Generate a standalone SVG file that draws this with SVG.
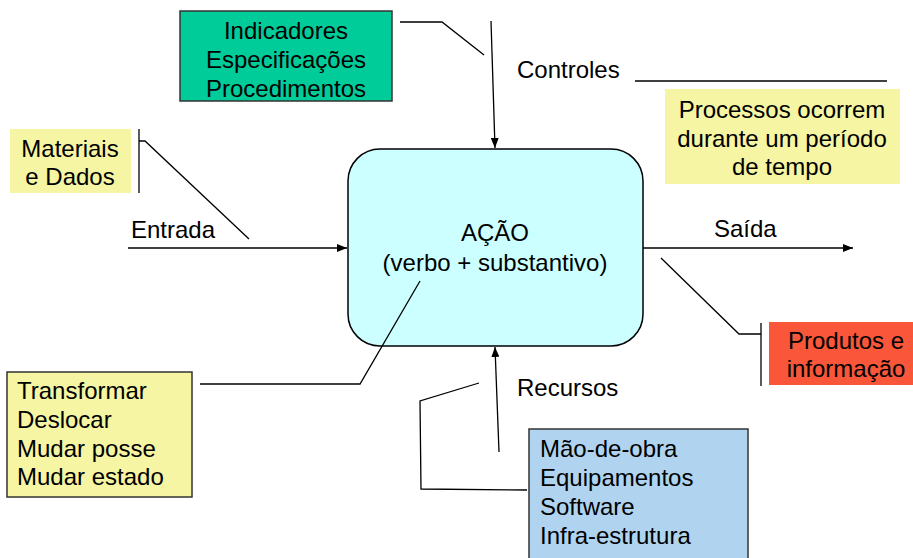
<svg xmlns="http://www.w3.org/2000/svg" width="913" height="558" viewBox="0 0 913 558">
<defs>
<marker id="arr" markerWidth="10" markerHeight="8" refX="10" refY="4" orient="auto" markerUnits="userSpaceOnUse">
<path d="M0,0 L10,4 L0,8 Z" fill="#000"/>
</marker>
<style>
text{font-family:"Liberation Sans",Arial,sans-serif;font-size:24px;fill:#000}
.c{text-anchor:middle}
.ln{fill:none;stroke:#000;stroke-width:1.3}
.box{stroke:#333;stroke-width:1.5}
</style>
</defs>
<rect width="913" height="558" fill="#fff"/>

<g id="n-acao">
<rect x="348" y="149" width="295" height="197" rx="32" ry="32" fill="#CCFFFF" stroke="#000" stroke-width="1.5"/>
<text class="c" x="495" y="241">AÇÃO</text>
<text class="c" x="495" y="271">(verbo + substantivo)</text>
</g>

<g id="connectors">
<line class="ln" x1="128" y1="248" x2="347" y2="248" marker-end="url(#arr)"/>
<line class="ln" x1="643" y1="248" x2="853" y2="248" marker-end="url(#arr)"/>
<line class="ln" x1="491" y1="21" x2="495" y2="148" marker-end="url(#arr)"/>
<line class="ln" x1="499" y1="452" x2="495" y2="347" marker-end="url(#arr)"/>
<polyline class="ln" points="400,22 442,22 484,55"/>
<polyline class="ln" points="139,129 139,193"/>
<polyline class="ln" points="139,141 145,141 249,239"/>
<line class="ln" x1="635" y1="81" x2="887" y2="81"/>
<polyline class="ln" points="761,323 761,386"/>
<polyline class="ln" points="661,258 739,334 761,334"/>
<polyline class="ln" points="200,384 360,384 420,281"/>
<polyline class="ln" points="527,490 421,489 420,401 479,383"/>
</g>

<g id="n-controles-box">
<rect class="box" x="180" y="11" width="212" height="90" fill="#00CC99"/>
<text class="c" x="286" y="39">Indicadores</text>
<text class="c" x="286" y="68">Especificações</text>
<text class="c" x="286" y="97">Procedimentos</text>
</g>

<g id="n-controles-label">
<text x="517" y="78">Controles</text>
</g>

<g id="n-processos">
<rect x="665" y="89" width="235" height="95" fill="#F5F5A3"/>
<text class="c" x="782" y="118">Processos ocorrem</text>
<text class="c" x="782" y="147">durante um período</text>
<text class="c" x="782" y="175">de tempo</text>
</g>

<g id="n-materiais">
<rect x="10" y="129" width="121" height="64" fill="#F5F5A3"/>
<text class="c" x="70" y="157">Materiais</text>
<text class="c" x="70" y="185">e Dados</text>
</g>

<g id="n-entrada">
<text x="131" y="238">Entrada</text>
</g>

<g id="n-saida">
<text x="714" y="237">Saída</text>
</g>

<g id="n-produtos">
<rect x="769" y="322" width="150" height="63" fill="#F9563A"/>
<text class="c" x="846" y="349">Produtos e</text>
<text class="c" x="846" y="377">informação</text>
</g>

<g id="n-transformar">
<rect class="box" x="7" y="372" width="185" height="125" fill="#F5F5A3"/>
<text x="17" y="399">Transformar</text>
<text x="17" y="428">Deslocar</text>
<text x="17" y="457">Mudar posse</text>
<text x="17" y="485">Mudar estado</text>
</g>

<g id="n-recursos-label">
<text x="517" y="396">Recursos</text>
</g>

<g id="n-recursos-box">
<rect class="box" x="529" y="429" width="219" height="140" fill="#B0D4F0"/>
<text x="540" y="457">Mão-de-obra</text>
<text x="540" y="486">Equipamentos</text>
<text x="540" y="515">Software</text>
<text x="540" y="544">Infra-estrutura</text>
</g>
</svg>
